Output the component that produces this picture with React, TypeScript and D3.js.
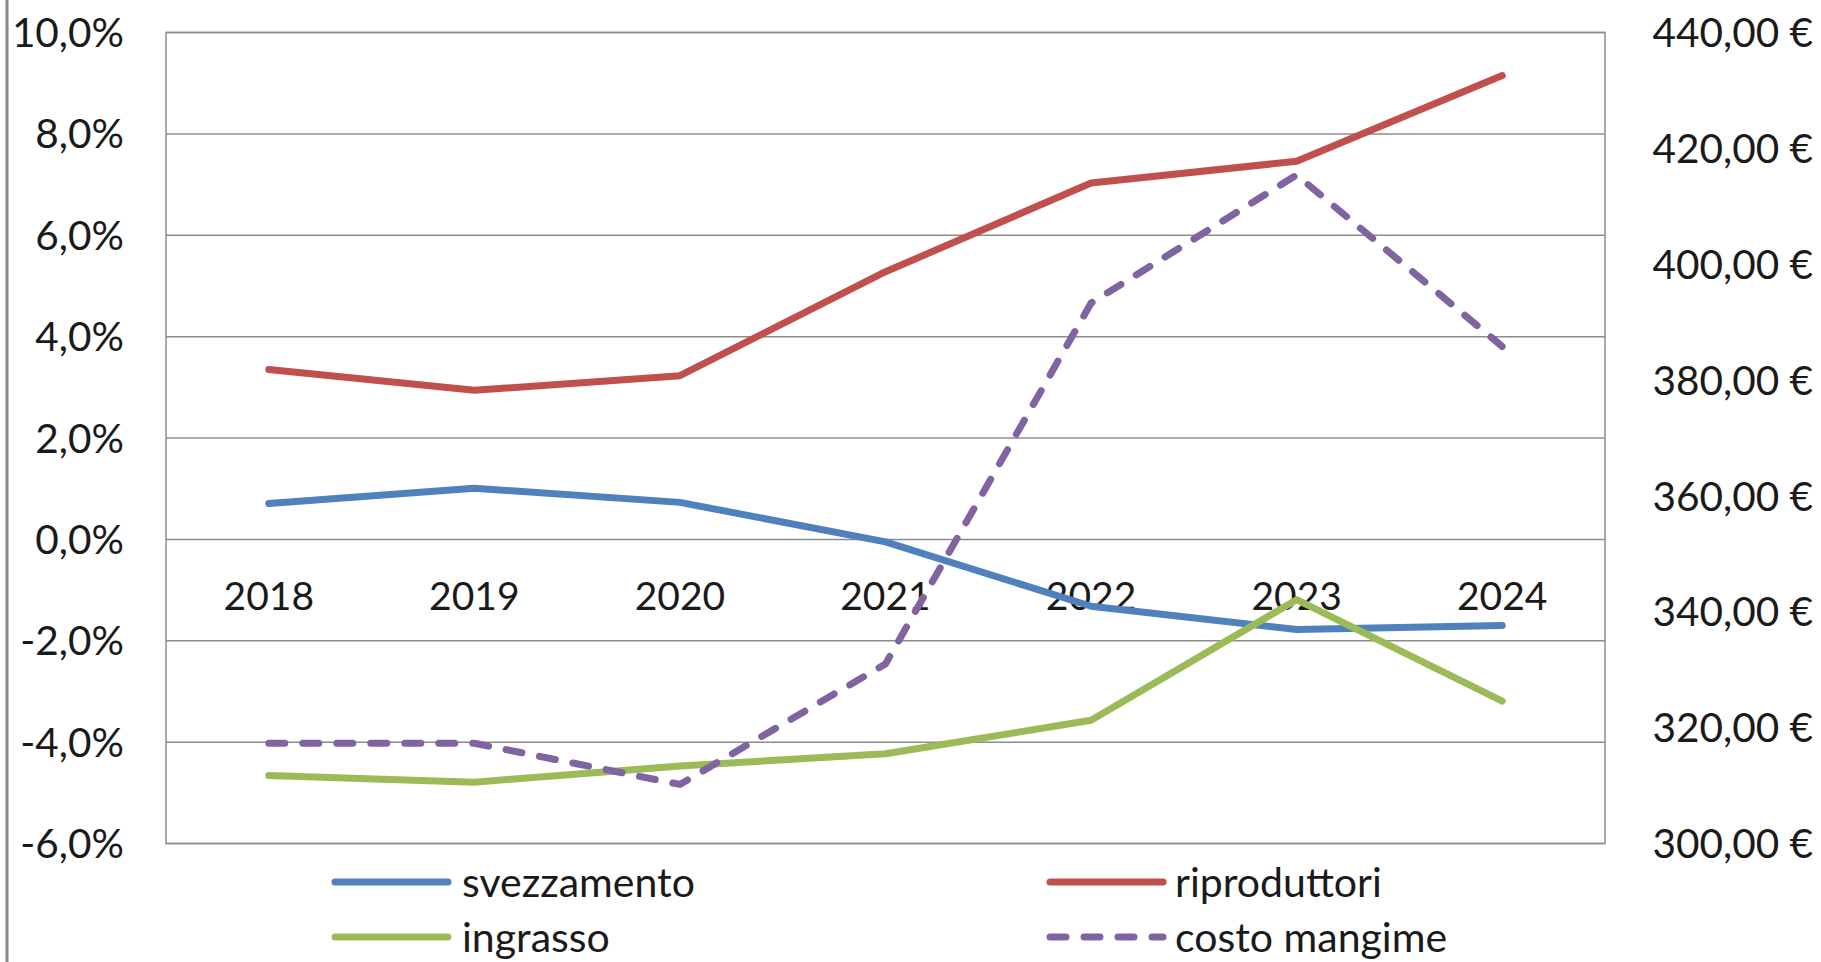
import React from "react";
import * as d3 from "d3";

const years = ["2018", "2019", "2020", "2021", "2022", "2023", "2024"];
const svezzamento = [0.71, 1.01, 0.73, -0.05, -1.32, -1.78, -1.70];
const riproduttori = [3.35, 2.94, 3.23, 5.28, 7.03, 7.46, 9.15];
const ingrasso = [-4.66, -4.79, -4.47, -4.23, -3.57, -1.19, -3.19];
const costoMangime = [317.3, 317.3, 310.2, 331.0, 393.3, 415.4, 385.8];

const leftTicks = [-6, -4, -2, 0, 2, 4, 6, 8, 10];
const rightTicks = [300, 320, 340, 360, 380, 400, 420, 440];

const W = 1821;
const H = 962;
const plot = { left: 166, right: 1605, top: 32.5, bottom: 843.5 };
const FONT = "Lato, 'Open Sans', sans-serif";

export default function App() {
  const x = d3.scalePoint<string>().domain(years).range([plot.left, plot.right]).padding(0.5);
  const yL = d3.scaleLinear().domain([-6, 10]).range([plot.bottom, plot.top]);
  const yR = d3.scaleLinear().domain([300, 440]).range([plot.bottom, plot.top]);

  const lineL = d3
    .line<number>()
    .x((_, i) => x(years[i]) as number)
    .y((d) => yL(d));
  const lineR = d3
    .line<number>()
    .x((_, i) => x(years[i]) as number)
    .y((d) => yR(d));

  const series = [
    { name: "svezzamento", color: "#4F81BD", d: lineL(svezzamento), dash: undefined },
    { name: "riproduttori", color: "#C0504D", d: lineL(riproduttori), dash: undefined },
    { name: "ingrasso", color: "#9BBB59", d: lineL(ingrasso), dash: undefined },
    { name: "costo mangime", color: "#8064A2", d: lineR(costoMangime), dash: "16 18" },
  ];

  const fmtPct = (v: number) => v.toFixed(1).replace(".", ",") + "%";
  const fmtEur = (v: number) => v.toFixed(2).replace(".", ",") + "\u00a0€";

  const legend = [
    { s: series[0], lx: 335, tx: 462, row: 0 },
    { s: series[1], lx: 1050, tx: 1175, row: 0 },
    { s: series[2], lx: 335, tx: 462, row: 1 },
    { s: series[3], lx: 1050, tx: 1175, row: 1 },
  ];
  const legendRows = [882, 937];

  return (
    <svg
      width={W}
      height={H}
      style={{ position: "absolute", left: 0, top: 0, display: "block", background: "#fff" }}
      fontFamily={FONT}
    >
      <rect x={0} y={0} width={W} height={H} fill="#fff" />
      <line x1={7} x2={7} y1={0} y2={H} stroke="#8a8a8a" strokeWidth={3} />

      {leftTicks.map((t) => (
        <line
          key={"g" + t}
          x1={plot.left}
          x2={plot.right}
          y1={yL(t)}
          y2={yL(t)}
          stroke="#8c8c8c"
          strokeWidth={1.5}
        />
      ))}
      <rect
        x={plot.left}
        y={plot.top}
        width={plot.right - plot.left}
        height={plot.bottom - plot.top}
        fill="none"
        stroke="#8c8c8c"
        strokeWidth={1.5}
      />

      {leftTicks.map((t) => (
        <text
          key={"l" + t}
          x={124}
          y={yL(t)}
          dy="0.36em"
          textAnchor="end"
          fontSize={40.5}
          fill="#1a1a1a"
        >
          {fmtPct(t)}
        </text>
      ))}
      {rightTicks.map((t) => (
        <text
          key={"r" + t}
          x={1813}
          y={yR(t)}
          dy="0.36em"
          textAnchor="end"
          fontSize={40.5}
          fill="#1a1a1a"
        >
          {fmtEur(t)}
        </text>
      ))}

      {years.map((yr) => (
        <text
          key={"x" + yr}
          x={x(yr)}
          y={yL(0) + 57}
          dy="0.36em"
          textAnchor="middle"
          fontSize={39}
          fill="#1a1a1a"
        >
          {yr}
        </text>
      ))}

      {series.map((s) => (
        <path
          key={s.name}
          d={s.d || ""}
          fill="none"
          stroke={s.color}
          strokeWidth={7}
          strokeLinejoin="round"
          strokeLinecap="round"
          strokeDasharray={s.dash}
        />
      ))}

      {legend.map(({ s, lx, tx, row }) => (
        <g key={"lg" + s.name}>
          <line
            x1={lx}
            x2={lx + 113}
            y1={legendRows[row]}
            y2={legendRows[row]}
            stroke={s.color}
            strokeWidth={7}
            strokeLinecap="round"
            strokeDasharray={s.dash}
          />
          <text x={tx} y={legendRows[row]} dy="0.36em" fontSize={41} fill="#1a1a1a">
            {s.name}
          </text>
        </g>
      ))}
    </svg>
  );
}
